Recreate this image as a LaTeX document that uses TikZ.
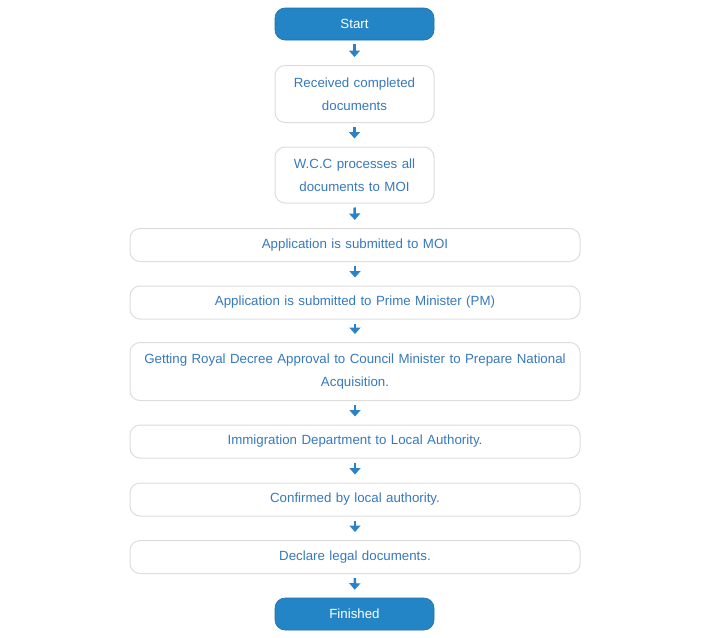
\documentclass[tikz,border=0pt]{standalone}
\usepackage{fontspec}
\setmainfont{Liberation Sans}
\usetikzlibrary{arrows.meta,calc}
\definecolor{txtblue}{HTML}{3779BE}
\definecolor{fillblue}{HTML}{2385C6}
\definecolor{bordergray}{HTML}{DDDDDD}
\definecolor{arrowblue}{HTML}{2A82C8}
\tikzset{
  box/.style={draw=bordergray, line width=1pt, rounded corners=10pt, fill=white,
    text=txtblue, font=\fontsize{13.3}{23}\selectfont, align=center, inner sep=0pt},
  narrow/.style={box, minimum width=159pt, text width=155pt},
  wide/.style={box, minimum width=450pt, text width=448pt},
  term/.style={draw=fillblue!85!black, line width=0.6pt, rounded corners=10pt, fill=fillblue,
    text=white, font=\fontsize{13.3}{17}\selectfont, minimum width=159pt, minimum height=32pt, inner sep=0pt},
  flowarrow/.style={draw=arrowblue, line width=2.6pt, -{Triangle[width=11pt,length=6.5pt]}, shorten <=4pt, shorten >=8pt}
}
\begin{document}
\begin{tikzpicture}[x=1pt,y=-1pt]
\useasboundingbox (0,0) rectangle (725,637);
\node[term] (start) at (354.5,24) {Start};
\node[narrow, minimum height=57pt] (recv) at (354.5,94) {Received completed\\documents};
\node[narrow, minimum height=56pt] (wcc) at (354.5,175) {W.C.C processes all\\documents to MOI};
\node[wide, minimum height=33pt] (moi) at (355,245) {Application is submitted to MOI};
\node[wide, minimum height=33pt] (pm) at (355,302.5) {Application is submitted to Prime Minister (PM)};
\node[wide, minimum height=58pt] (royal) at (355,371.5) {Getting Royal Decree Approval to Council Minister to Prepare National\\Acquisition.};
\node[wide, minimum height=33pt] (immi) at (355,441.5) {Immigration Department to Local Authority.};
\node[wide, minimum height=33pt] (conf) at (355,499.5) {Confirmed by local authority.};
\node[wide, minimum height=33pt] (decl) at (355,557) {Declare legal documents.};
\node[term] (fin) at (354.5,614) {Finished};
\foreach \a/\b in {start/recv,recv/wcc,wcc/moi,moi/pm,pm/royal,royal/immi,immi/conf,conf/decl,decl/fin}
  \draw[flowarrow] (\a.south) -- (\b.north);
\end{tikzpicture}
\end{document}
